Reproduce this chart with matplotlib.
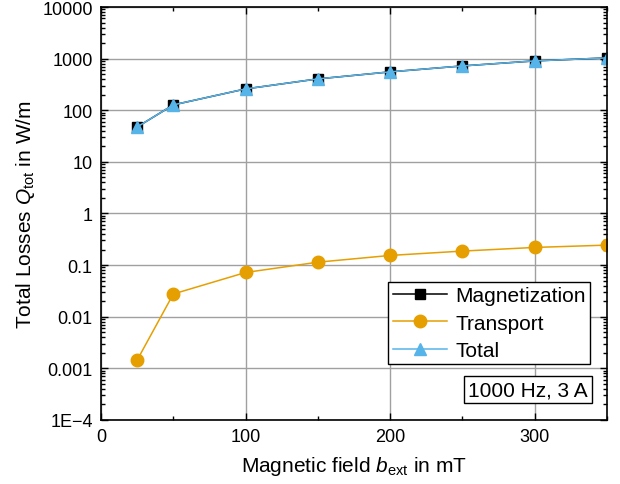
import numpy as np
import matplotlib
matplotlib.use("Agg")
import matplotlib.pyplot as plt
from matplotlib.ticker import LogLocator, FixedLocator, MultipleLocator

plt.rcParams['font.family'] = ['Liberation Sans', 'DejaVu Sans']
plt.rcParams['mathtext.fontset'] = 'custom'
plt.rcParams['mathtext.rm'] = 'Liberation Sans'
plt.rcParams['mathtext.it'] = 'Liberation Sans:italic'

field = [25, 50, 100, 150, 200, 250, 300, 350]
magnetization = [47.5, 127, 259, 405, 554, 722, 903, 1033]
transport = [0.00145, 0.0276, 0.072, 0.114, 0.154, 0.187, 0.22, 0.244]
total = [m + t for m, t in zip(magnetization, transport)]

ytick_vals = [1e-4, 1e-3, 1e-2, 1e-1, 1, 10, 100, 1000, 10000]
ytick_labels = ["1E\u22124", "0.001", "0.01", "0.1", "1", "10", "100", "1000", "10000"]

fig = plt.figure(figsize=(6.2, 4.85), dpi=100)
ax = fig.add_axes([0.163, 0.132, 0.816, 0.8515])

ax.plot(field, magnetization, color="black", marker="s", ms=7, lw=1.1, label="Magnetization")
ax.plot(field, transport, color="#E69F00", marker="o", ms=9, lw=1.1, label="Transport")
ax.plot(field, total, color="#56B4E9", marker="^", ms=9, lw=1.1, label="Total")

ax.set_yscale("log")
ax.set_xlim(0, 350)
ax.set_ylim(1e-4, 1e4)
ax.yaxis.set_major_locator(FixedLocator(ytick_vals))
ax.set_yticklabels(ytick_labels)
ax.yaxis.set_minor_locator(LogLocator(base=10, subs=np.arange(2, 10), numticks=20))
ax.xaxis.set_major_locator(MultipleLocator(100))
ax.xaxis.set_minor_locator(MultipleLocator(50))

ax.grid(True, which="major", color="#a0a0a0", lw=1)
ax.set_axisbelow(True)
ax.tick_params(which="both", direction="in", top=True, right=True, labelsize=13, pad=6)
ax.tick_params(which="major", length=5, width=1)
ax.tick_params(which="minor", length=3, width=1)
for s in ax.spines.values():
    s.set_linewidth(1.2)

ax.set_xlabel(r"Magnetic field $b_{\mathrm{ext}}$ in mT", fontsize=15, labelpad=6)
ax.set_ylabel(r"Total Losses $Q_{\mathrm{tot}}$ in W/m", fontsize=15, labelpad=4)

leg = ax.legend(loc="lower right", bbox_to_anchor=(0.966, 0.135), fontsize=15,
                fancybox=False, edgecolor="black", framealpha=1, handlelength=2.6,
                borderpad=0.2, labelspacing=0.4, handletextpad=0.4, borderaxespad=0)
leg.get_frame().set_linewidth(1)

ax.text(0.962, 0.05, "1000 Hz, 3 A", transform=ax.transAxes, ha="right", va="bottom",
        fontsize=15, bbox=dict(boxstyle="square,pad=0.2", fc="white", ec="black", lw=1))

fig.savefig("out.png", dpi=100)
